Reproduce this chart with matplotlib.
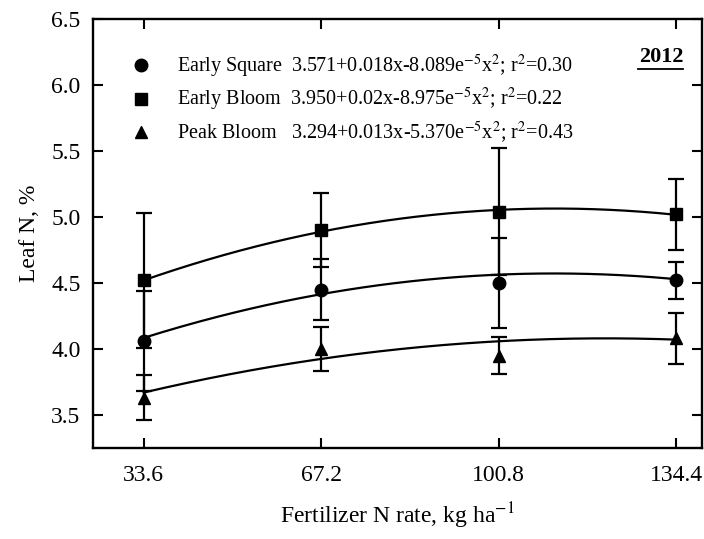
import numpy as np
import matplotlib
matplotlib.use("Agg")
import matplotlib.pyplot as plt

# -------------------- Data --------------------
n_rate = [33.6, 67.2, 100.8, 134.4]

early_square = [4.06, 4.45, 4.50, 4.52]
early_square_err = [0.38, 0.23, 0.34, 0.14]

early_bloom = [4.52, 4.90, 5.04, 5.02]
early_bloom_err = [0.51, 0.28, 0.48, 0.27]

peak_bloom = [3.63, 4.00, 3.95, 4.08]
peak_bloom_err = [0.17, 0.17, 0.14, 0.19]

# fitted quadratics: a + b*x + c*x^2
fit_square = [3.571, 0.018, -8.089e-5]
fit_early_bloom = [3.950, 0.02, -8.975e-5]
fit_peak_bloom = [3.294, 0.013, -5.370e-5]

labels = [
    r"Early Square  3.571+0.018x-8.089e$^{-5}$x$^{2}$; r$^{2}$=0.30",
    r"Early Bloom  3.950+0.02x-8.975e$^{-5}$x$^{2}$; r$^{2}$=0.22",
    r"Peak Bloom   3.294+0.013x-5.370e$^{-5}$x$^{2}$; r$^{2}$=0.43",
]

# -------------------- Style --------------------
plt.rcParams["font.family"] = ["Liberation Serif", "DejaVu Serif"]
plt.rcParams["mathtext.fontset"] = "stix"

fig = plt.figure(figsize=(7.04, 5.39), dpi=100)
ax = fig.add_axes([0.1321, 0.1688, 0.9972 - 0.1321, 0.9647 - 0.1688])

xs = np.linspace(n_rate[0], n_rate[-1], 200)
series = [
    (early_square, early_square_err, fit_square, "o", 9),
    (early_bloom, early_bloom_err, fit_early_bloom, "s", 8),
    (peak_bloom, peak_bloom_err, fit_peak_bloom, "^", 9),
]

handles = []
for vals, errs, coef, mk, ms in series:
    fit = coef[0] + coef[1] * xs + coef[2] * xs ** 2
    ax.plot(xs, fit, color="black", lw=1.6, zorder=2)
    ax.errorbar(n_rate, vals, yerr=errs, fmt="none", ecolor="black",
                elinewidth=1.6, capsize=6, capthick=1.6, zorder=3)
    h, = ax.plot(n_rate, vals, linestyle="none", marker=mk, markersize=ms,
                 color="black", zorder=4)
    handles.append(h)

ax.set_xlim(24, 139.3)
ax.set_ylim(3.25, 6.5)
ax.set_xticks(n_rate)
ax.set_xticklabels(["33.6", "67.2", "100.8", "134.4"])
ax.set_yticks([3.5, 4.0, 4.5, 5.0, 5.5, 6.0, 6.5])
ax.set_yticklabels(["3.5", "4.0", "4.5", "5.0", "5.5", "6.0", "6.5"])

ax.tick_params(direction="in", length=7, width=1.5, labelsize=17,
               top=True, right=True)
ax.tick_params(axis="x", pad=12)
ax.tick_params(axis="y", pad=9)
for sp in ax.spines.values():
    sp.set_linewidth(1.7)

ax.set_xlabel(r"Fertilizer N rate, kg ha$^{-1}$", fontsize=17, labelpad=11)
ax.set_ylabel("Leaf N, %", fontsize=17, labelpad=8)

leg = ax.legend(handles, labels, loc="upper left", bbox_to_anchor=(0.046, 0.94),
                frameon=False, fontsize=14.5, handletextpad=1.2,
                labelspacing=0.3, handlelength=1.2, borderaxespad=0)

ax.text(0.969, 0.911, "2012", transform=ax.transAxes, ha="right", va="center",
        fontsize=16, fontweight="bold")
ax.plot([0.895, 0.969], [0.884, 0.884], transform=ax.transAxes,
        color="black", lw=1.3, clip_on=False)

fig.savefig("out.png", dpi=100)
